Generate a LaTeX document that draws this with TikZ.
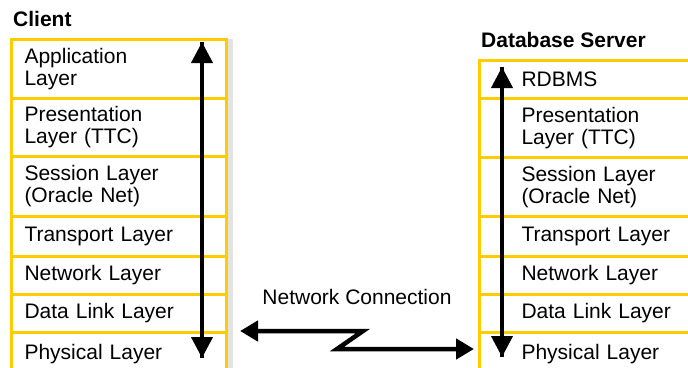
\documentclass[tikz,border=0pt]{standalone}
\usepackage{fontspec}
\setmainfont{Liberation Sans}
\usetikzlibrary{arrows.meta}
\definecolor{layeryellow}{HTML}{FFCC00}
\definecolor{shadowgray}{HTML}{E3E3E3}
\begin{document}
\begin{tikzpicture}[x=1pt,y=-1pt,
  every node/.style={font=\fontsize{21}{22}\selectfont},
  clientrow/.style={draw=layeryellow,line width=3pt,rectangle,anchor=north west,
    minimum width=215pt,inner xsep=13pt,inner ysep=0pt,text width=189pt,align=left},
  serverrow/.style={draw=layeryellow,line width=3pt,rectangle,anchor=north west,
    minimum width=322pt,inner xsep=42pt,inner ysep=0pt,text width=238pt,align=left},
  title/.style={anchor=base west,inner sep=0pt,font=\fontsize{21}{22}\selectfont\bfseries},
  stackarrow/.style={line width=4pt,-{Triangle[width=21pt,length=21pt]}},
  netarrow/.style={line width=4.5pt,line join=miter,{Triangle[width=20pt,length=18pt]}-{Triangle[width=20pt,length=18pt]}}
]
\clip (0,0) rectangle (688,367);
\fill[white] (0,0) rectangle (688,367);
% shadow of client stack
\fill[shadowgray] (227,39) rectangle (233,370);
% titles
\node[title] (clienttitle) at (13,26) {Client};
\node[title] (servertitle) at (481,47) {Database Server};
% client stack
\node[clientrow,minimum height=59pt] (c1) at (10,38) {Application\\Layer};
\node[clientrow,minimum height=58pt] (c2) at (10,97) {Presentation\\Layer (TTC)};
\node[clientrow,minimum height=60pt] (c3) at (10,155) {Session Layer\\(Oracle Net)};
\node[clientrow,minimum height=40pt] (c4) at (10,215) {Transport Layer};
\node[clientrow,minimum height=38pt] (c5) at (10,255) {Network Layer};
\node[clientrow,minimum height=38pt] (c6) at (10,293) {Data Link Layer};
\node[clientrow,minimum height=44pt] (c7) at (10,331) {Physical Layer};
% server stack
\node[serverrow,minimum height=38pt] (s1) at (478,59) {RDBMS};
\node[serverrow,minimum height=59pt] (s2) at (478,97) {Presentation\\Layer (TTC)};
\node[serverrow,minimum height=59pt] (s3) at (478,156) {Session Layer\\(Oracle Net)};
\node[serverrow,minimum height=40pt] (s4) at (478,215) {Transport Layer};
\node[serverrow,minimum height=38pt] (s5) at (478,255) {Network Layer};
\node[serverrow,minimum height=38pt] (s6) at (478,293) {Data Link Layer};
\node[serverrow,minimum height=44pt] (s7) at (478,331) {Physical Layer};
% vertical arrows
\coordinate (ctop) at (202,42);
\coordinate (cbot) at (202,358);
\coordinate (stop) at (502,67);
\coordinate (sbot) at (502,357);
\draw[stackarrow] (cbot) -- (ctop);
\draw[stackarrow] (ctop) -- (cbot);
\draw[stackarrow] (sbot) -- (stop);
\draw[stackarrow] (stop) -- (sbot);
% network connection
\coordinate (nleft) at (240,331);
\coordinate (nk1) at (363,331);
\coordinate (nk2) at (337,349);
\coordinate (nright) at (474,349);
\draw[netarrow] (nleft) -- (nk1) -- (nk2) -- (nright);
\node[inner sep=0pt] (netlabel) at (357,297) {Network Connection};
\end{tikzpicture}
\end{document}
